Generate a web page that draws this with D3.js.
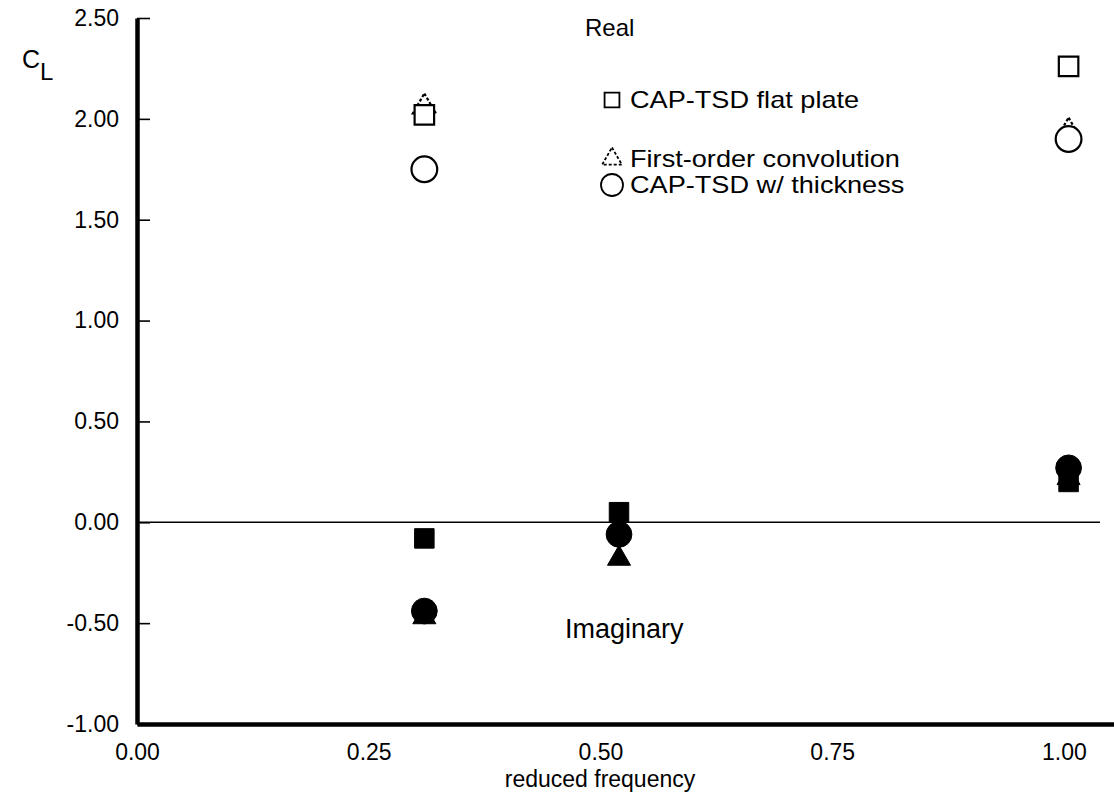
<!DOCTYPE html>
<html><head><meta charset="utf-8">
<script src="https://cdn.jsdelivr.net/npm/d3@7"></script>
<style>
html,body{margin:0;padding:0;background:#fff;}
svg{display:block;font-family:"Liberation Sans",Arial,Helvetica,sans-serif;}
</style></head>
<body>
<svg id="chart" width="1114" height="797"></svg>
<script>
// ---- data ----
const xTicks = [0, 0.25, 0.5, 0.75, 1.0];
const yTicks = [-1.0, -0.5, 0.0, 0.5, 1.0, 1.5, 2.0, 2.5];
const realFreq = [0.31, 1.005];
const realFlat = [2.02, 2.26];
const realConv = [2.06, 1.94];
const realThick = [1.75, 1.90];
const imagFreq = [0.31, 0.52, 1.005];
const imagFlat = [-0.08, 0.05, 0.20];
const imagConv = [-0.47, -0.18, 0.22];
const imagThick = [-0.44, -0.06, 0.27];
const legendLabels = ["CAP-TSD flat plate", "First-order convolution", "CAP-TSD w/ thickness"];

const svg = d3.select("#chart");
const x = d3.scaleLinear().domain([0, 1.054]).range([137, 1114]);
const y = d3.scaleLinear().domain([-1, 2.5]).range([724, 18]);
const fmt = d => d3.format(".2f")(d).replace("\u2212", "-");

// zero line
svg.append("line").attr("x1", x(0)).attr("x2", 1100)
  .attr("y1", y(0)).attr("y2", y(0)).attr("stroke", "#000").attr("stroke-width", 1.6);

// axes
const yAxis = d3.axisLeft(y).tickValues(yTicks).tickFormat(fmt)
  .tickSizeInner(-13).tickSizeOuter(0).tickPadding(18);
const gy = svg.append("g").attr("transform", `translate(${x(0)},0)`).call(yAxis);
gy.select(".domain").attr("stroke-width", 4.5);
gy.selectAll(".tick line").attr("stroke-width", 1.6);
gy.selectAll("text").attr("font-size", 23).attr("font-family", "Liberation Sans, Arial, sans-serif").attr("fill", "#000");

const xAxis = d3.axisBottom(x).tickValues(xTicks).tickFormat(fmt)
  .tickSizeInner(0).tickSizeOuter(0).tickPadding(20);
const gx = svg.append("g").attr("transform", `translate(0,${y(-1)})`).call(xAxis);
gx.select(".domain").attr("stroke-width", 4.5);
gx.selectAll("text").attr("font-size", 23).attr("font-family", "Liberation Sans, Arial, sans-serif").attr("fill", "#000");

// axis titles
svg.append("text").attr("x", 600).attr("y", 787).attr("text-anchor", "middle")
  .attr("font-size", 23).text("reduced frequency");
const cl = svg.append("text").attr("x", 22).attr("y", 68).attr("font-size", 25);
cl.append("tspan").text("C");
cl.append("tspan").attr("dy", 12).attr("font-size", 24).text("L");

// annotations
svg.append("text").attr("x", 585).attr("y", 36).attr("font-size", 24).text("Real");
svg.append("text").attr("x", 565).attr("y", 638).attr("font-size", 27).text("Imaginary");

const sq = d3.symbol().type(d3.symbolSquare).size(380);
const tri = d3.symbol().type(d3.symbolTriangle).size(230);
const circ = d3.symbol().type(d3.symbolCircle).size(520);

function draw(freqs, vals, gen, filled, dashed) {
  svg.append("g").selectAll("path").data(vals).join("path")
    .attr("d", gen)
    .attr("transform", (d, i) => `translate(${x(freqs[i])},${y(d)})`)
    .attr("fill", filled ? "#000" : "#fff")
    .attr("stroke", "#000")
    .attr("stroke-width", filled ? 1 : 2.2)
    .attr("stroke-dasharray", dashed ? "3,2" : null);
}
// real (open)
draw(realFreq, realConv, tri, false, true);
draw(realFreq, realFlat, sq, false, false);
draw(realFreq, realThick, circ, false, false);
// imaginary (filled)
draw(imagFreq, imagConv, tri, true, false);
draw(imagFreq, imagFlat, sq, true, false);
draw(imagFreq, imagThick, circ, true, false);

// legend
const lg = svg.append("g");
const legendY = [100, 159, 185];
const legendSym = [d3.symbol().type(d3.symbolSquare).size(220), d3.symbol().type(d3.symbolTriangle).size(170), d3.symbol().type(d3.symbolCircle).size(380)];
legendLabels.forEach((t, i) => {
  lg.append("path").attr("d", legendSym[i]).attr("transform", `translate(612,${legendY[i]})`)
    .attr("fill", "#fff").attr("stroke", "#000").attr("stroke-width", 1.8)
    .attr("stroke-dasharray", i === 1 ? "3,2" : null);
  lg.append("text").attr("transform", `translate(630,${legendY[i] + 8}) scale(1.18,1)`)
    .attr("font-size", 23).text(t);
});
</script>
</body></html>
